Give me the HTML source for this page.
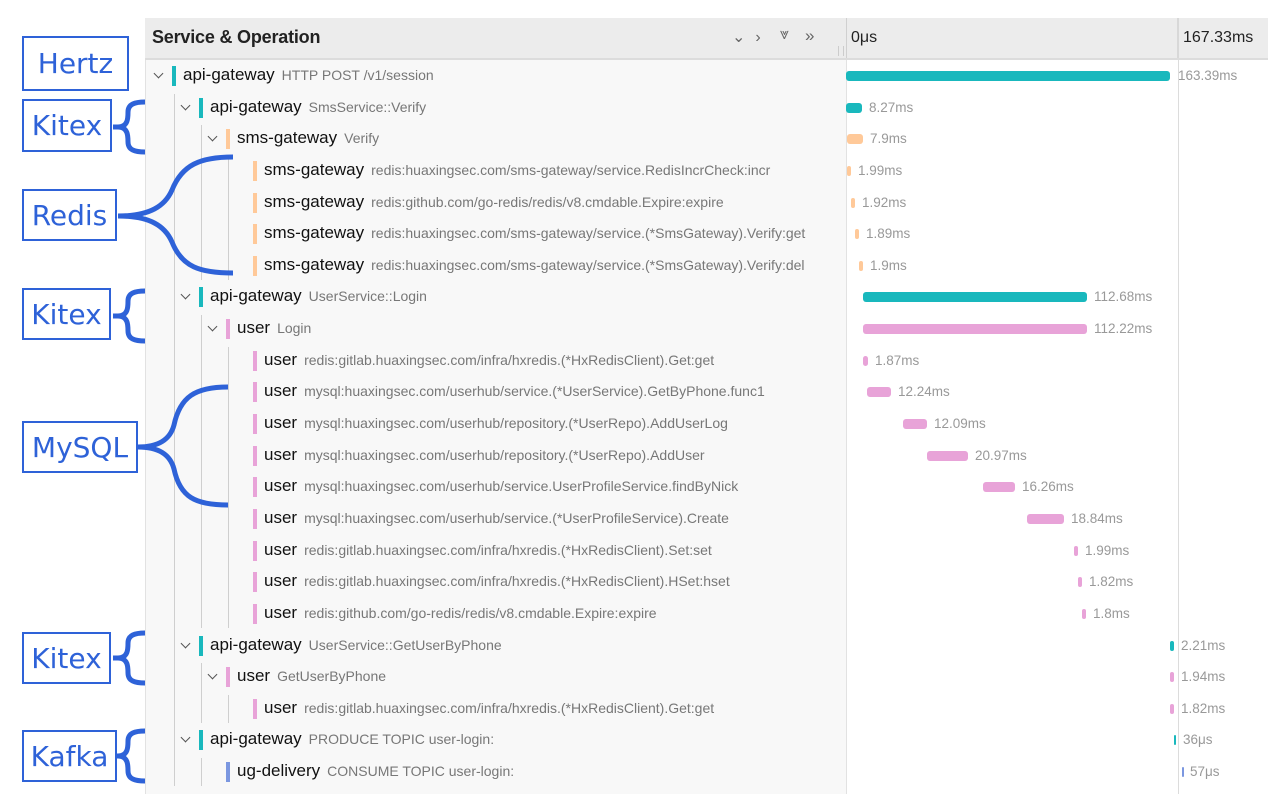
<!DOCTYPE html>
<html><head><meta charset="utf-8">
<style>
body{margin:0;width:1280px;height:794px;background:#fff;position:relative;overflow:hidden;font-family:"Liberation Sans",sans-serif}
.a{position:absolute}
#left{left:145px;top:18px;width:701px;height:776px;background:#f8f8f8;border-left:1px solid #e2e2e2}
#hdr{left:145px;top:18px;width:1123px;height:40px;background:#ececec;border-bottom:2px solid #dcdcdc}
.svc{position:absolute;font-size:17px;color:#111;white-space:nowrap;line-height:20px}
.svc span{font-size:14px;color:#777;margin-left:7px}
.cb{position:absolute;width:4px;height:20px}
.bar{position:absolute;height:10px;border-radius:3px}
.lbl{position:absolute;font-size:13.5px;color:#999;line-height:16px}
.chev{position:absolute;width:6px;height:6px;border-right:1.3px solid #555;border-bottom:1.3px solid #555;transform:rotate(45deg)}
.g{position:absolute;width:1px;background:#cfcfcf}
.box{position:absolute;border:2px solid #2e62d8;color:#2e62d8;font-size:28px;font-family:"DejaVu Sans","Liberation Sans",sans-serif;display:flex;align-items:center;justify-content:center;box-sizing:border-box;background:#fff}
</style></head><body>
<div class="a" id="left"></div>
<div class="a" style="left:846px;top:58px;width:1px;height:736px;background:#e2e2e2"></div>
<div class="a" style="left:1178px;top:58px;width:1px;height:736px;background:#dcdcdc"></div>
<div class="a" id="hdr"></div>
<div class="a" style="left:846px;top:18px;width:1px;height:40px;background:#d0d0d0"></div>
<div class="a" style="left:1177px;top:18px;width:2px;height:40px;background:#d8d8d8"></div>
<div class="a" style="left:152px;top:27px;font-size:18px;color:#222;font-weight:bold;letter-spacing:-0.2px">Service &amp; Operation</div>
<div class="a" style="left:732px;top:27px;font-size:16px;color:#666;letter-spacing:10px">⌄›</div>
<div class="a" style="left:780px;top:26px;font-size:16px;color:#666">⩔</div>
<div class="a" style="left:805px;top:26px;font-size:17px;color:#666">»</div>
<div class="a" style="left:838px;top:46px;width:4px;height:10px;border-left:1px solid #ccc;border-right:1px solid #ccc"></div>
<div class="a" style="left:851px;top:29px;font-size:16px;color:#222">0μs</div>
<div class="a" style="left:1183px;top:29px;font-size:16px;color:#222">167.33ms</div>
<div id="rows"></div>
<svg class="a" style="left:0;top:0" width="260" height="794">
<g fill="none" stroke="#2e62d8" stroke-width="5" stroke-linecap="butt">
<path d="M113 127 H118 C128 127 128 118 128 112 C128 104 135 102 145 102"/>
<path d="M118 127 C128 127 128 136 128 142 C128 150 135 152 145 152"/>
<path d="M118 216 C150 216 165 206 172 190 C182 165 200 157 233 157"/>
<path d="M118 216 C150 216 165 226 172 242 C182 267 200 273 233 273"/>
<path d="M113 316 H118 C128 316 128 307 128 301 C128 293 135 291 145 291"/>
<path d="M118 316 C128 316 128 325 128 331 C128 339 135 341 145 341"/>
<path d="M138 447 C158 447 170 440 174 425 C180 397 195 387 228 387"/>
<path d="M138 447 C158 447 170 454 174 469 C180 497 195 505 228 505"/>
<path d="M113 658 H118 C128 658 128 649 128 643 C128 635 135 633 145 633"/>
<path d="M118 658 C128 658 128 667 128 673 C128 681 135 683 145 683"/>
<path d="M113 756 H118 C128 756 128 747 128 741 C128 733 135 731 145 731"/>
<path d="M118 756 C128 756 128 765 128 771 C128 779 135 781 145 781"/>
</g></svg>
<div class="box" style="left:22px;top:36px;width:107px;height:55px">Hertz</div>
<div class="box" style="left:22px;top:99px;width:90px;height:53px">Kitex</div>
<div class="box" style="left:22px;top:189px;width:95px;height:52px">Redis</div>
<div class="box" style="left:22px;top:288px;width:89px;height:52px">Kitex</div>
<div class="box" style="left:22px;top:421px;width:116px;height:52px">MySQL</div>
<div class="box" style="left:22px;top:632px;width:89px;height:52px">Kitex</div>
<div class="box" style="left:22px;top:730px;width:95px;height:52px">Kafka</div>
<script>
var T='#19b8bd',O='#ffc999',P='#e8a3d8',B='#7b97e0';
var R=[
[0,1,T,'api-gateway','HTTP POST /v1/session',846,1170,'163.39ms',1178],
[1,1,T,'api-gateway','SmsService::Verify',846,862,'8.27ms',869],
[2,1,O,'sms-gateway','Verify',847,863,'7.9ms',870],
[3,0,O,'sms-gateway','redis:huaxingsec.com/sms-gateway/service.RedisIncrCheck:incr',847,851,'1.99ms',858],
[3,0,O,'sms-gateway','redis:github.com/go-redis/redis/v8.cmdable.Expire:expire',851,855,'1.92ms',862],
[3,0,O,'sms-gateway','redis:huaxingsec.com/sms-gateway/service.(*SmsGateway).Verify:get',855,859,'1.89ms',866],
[3,0,O,'sms-gateway','redis:huaxingsec.com/sms-gateway/service.(*SmsGateway).Verify:del',859,863,'1.9ms',870],
[1,1,T,'api-gateway','UserService::Login',863,1087,'112.68ms',1094],
[2,1,P,'user','Login',863,1087,'112.22ms',1094],
[3,0,P,'user','redis:gitlab.huaxingsec.com/infra/hxredis.(*HxRedisClient).Get:get',863,868,'1.87ms',875],
[3,0,P,'user','mysql:huaxingsec.com/userhub/service.(*UserService).GetByPhone.func1',867,891,'12.24ms',898],
[3,0,P,'user','mysql:huaxingsec.com/userhub/repository.(*UserRepo).AddUserLog',903,927,'12.09ms',934],
[3,0,P,'user','mysql:huaxingsec.com/userhub/repository.(*UserRepo).AddUser',927,968,'20.97ms',975],
[3,0,P,'user','mysql:huaxingsec.com/userhub/service.UserProfileService.findByNick',983,1015,'16.26ms',1022],
[3,0,P,'user','mysql:huaxingsec.com/userhub/service.(*UserProfileService).Create',1027,1064,'18.84ms',1071],
[3,0,P,'user','redis:gitlab.huaxingsec.com/infra/hxredis.(*HxRedisClient).Set:set',1074,1078,'1.99ms',1085],
[3,0,P,'user','redis:gitlab.huaxingsec.com/infra/hxredis.(*HxRedisClient).HSet:hset',1078,1082,'1.82ms',1089],
[3,0,P,'user','redis:github.com/go-redis/redis/v8.cmdable.Expire:expire',1082,1086,'1.8ms',1093],
[1,1,T,'api-gateway','UserService::GetUserByPhone',1170,1174,'2.21ms',1181],
[2,1,P,'user','GetUserByPhone',1170,1174,'1.94ms',1181],
[3,0,P,'user','redis:gitlab.huaxingsec.com/infra/hxredis.(*HxRedisClient).Get:get',1170,1174,'1.82ms',1181],
[1,1,T,'api-gateway','PRODUCE TOPIC user-login:',1174,1176,'36μs',1183],
[2,0,B,'ug-delivery','CONSUME TOPIC user-login:',1182,1184,'57μs',1190]];
var h='',Y0=76;
function g(x,a,b){var y1=Y0+a*31.64-14,y2=Y0+b*31.64+14;h+='<div class="g" style="left:'+x+'px;top:'+y1+'px;height:'+(y2-y1)+'px"></div>';}
g(174,1,22);g(201,2,6);g(201,8,17);g(201,19,20);g(201,22,22);g(228,3,6);g(228,9,17);g(228,20,20);
R.forEach(function(r,i){var y=Y0+i*31.64,L=r[0],x=172+L*27;
if(r[1])h+='<div class="chev" style="left:'+(x-17)+'px;top:'+(y-6)+'px"></div>';
h+='<div class="cb" style="left:'+x+'px;top:'+(y-10)+'px;background:'+r[2]+'"></div>';
h+='<div class="svc" style="left:'+(x+11)+'px;top:'+(y-11)+'px">'+r[3]+'<span>'+r[4]+'</span></div>';
h+='<div class="bar" style="left:'+r[5]+'px;width:'+(r[6]-r[5])+'px;top:'+(y-5)+'px;background:'+r[2]+'"></div>';
h+='<div class="lbl" style="left:'+r[8]+'px;top:'+(y-8)+'px">'+r[7]+'</div>';});
document.getElementById('rows').innerHTML=h;
</script>
</body></html>
